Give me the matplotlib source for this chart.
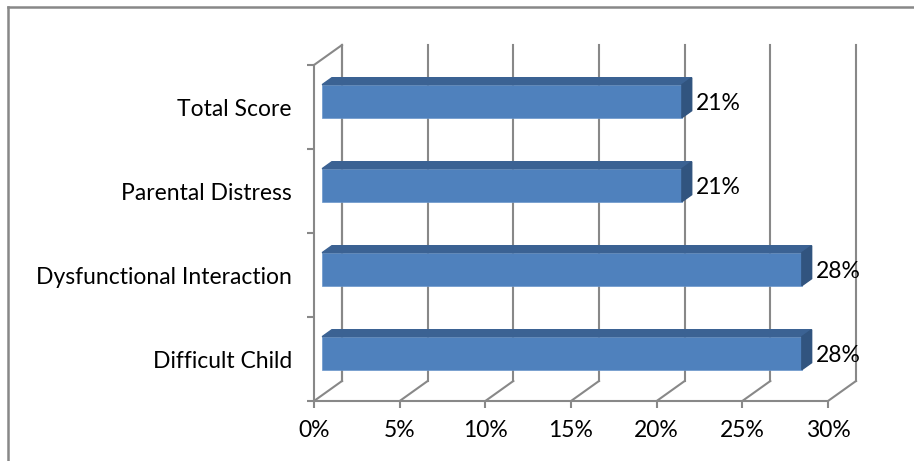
import numpy as np
import matplotlib.pyplot as plt
from matplotlib.lines import Line2D

categories = ['Difficult Child', 'Dysfunctional Interaction', 'Parental Distress', 'Total Score']
values = [28, 28, 21, 21]
xticks = [0, 5, 10, 15, 20, 25, 30]
xlabels = ['0%', '5%', '10%', '15%', '20%', '25%', '30%']

plt.rcParams['font.family'] = ['Lato', 'DejaVu Sans']
grid_c = '#888888'
front_c = '#4F81BD'
top_c = '#3B6293'
side_c = '#31547F'
fs = 16.5

W, H = 914, 461
fig = plt.figure(figsize=(W / 100, H / 100), dpi=100)
# front plane of the 3d box in pixels: x 314..828, y 65..401
ax = fig.add_axes([314 / W, 1 - 401 / H, (828 - 314) / W, (401 - 65) / H])
ax.set_xlim(0, 30)
ax.set_ylim(0, 4)

DX = 28 / (514 / 30)   # depth offset in data units
DY = 20 / 84
f1, f2 = 0.29, 0.64    # bar front / back depth fractions

# back wall + floor gridlines
for t in xticks:
    ax.plot([t + DX, t + DX], [DY, 4 + DY], color=grid_c, lw=1.5, clip_on=False, zorder=1)
    ax.plot([t, t + DX], [0, DY], color=grid_c, lw=1.5, clip_on=False, zorder=1)
# left wall
ax.plot([DX, DX], [DY, 4 + DY], color=grid_c, lw=1.5, clip_on=False, zorder=1)
ax.plot([0, DX], [4, 4 + DY], color=grid_c, lw=1.5, clip_on=False, zorder=1)

bh = 0.393
y = np.arange(len(categories)) + 0.5
for i, v in enumerate(values):
    yb = y[i] - bh / 2 + f1 * DY
    ax.barh(yb, v, height=bh, left=f1 * DX, align='edge', color=front_c,
            edgecolor='#6A96CB', lw=0.5, zorder=3, clip_on=False)
    x0, x1 = f1 * DX, f1 * DX + v
    ox, oy = (f2 - f1) * DX, (f2 - f1) * DY
    # top face
    ax.fill([x0, x1, x1 + ox, x0 + ox], [yb + bh, yb + bh, yb + bh + oy, yb + bh + oy],
            color=top_c, zorder=3, clip_on=False)
    # side face
    ax.fill([x1, x1 + ox, x1 + ox, x1], [yb, yb + oy, yb + bh + oy, yb + bh],
            color=side_c, zorder=3, clip_on=False)
    ax.annotate(f'{v}%', (x1 + ox, y[i] + 0.04), xytext=(3, 0), textcoords='offset points',
                ha='left', va='center', fontsize=fs, color='black', zorder=4)

for s in ['top', 'right']:
    ax.spines[s].set_visible(False)
for s in ['bottom', 'left']:
    ax.spines[s].set_color(grid_c)
    ax.spines[s].set_linewidth(1.5)
ax.set_xticks(xticks)
ax.set_xticklabels(xlabels, fontsize=fs)
ax.tick_params(axis='x', direction='out', length=5, width=1.5, color=grid_c, pad=9)
ax.set_yticks(range(5))
ax.set_yticklabels([])
ax.tick_params(axis='y', which='major', direction='out', length=5, width=1.5, color=grid_c)
ax.set_yticks(y, minor=True)
ax.set_yticklabels(categories, minor=True, fontsize=fs)
ax.tick_params(axis='y', which='minor', length=0, pad=16)
ax.patch.set_visible(False)

# outer chart border (top and left edges)
fig.add_artist(Line2D([8 / W, 1], [1 - 7 / H, 1 - 7 / H], color=grid_c, lw=1.8))
fig.add_artist(Line2D([8 / W, 8 / W], [1 - 7 / H, 0], color=grid_c, lw=1.8))

fig.savefig('out.png', dpi=100, facecolor='white')
